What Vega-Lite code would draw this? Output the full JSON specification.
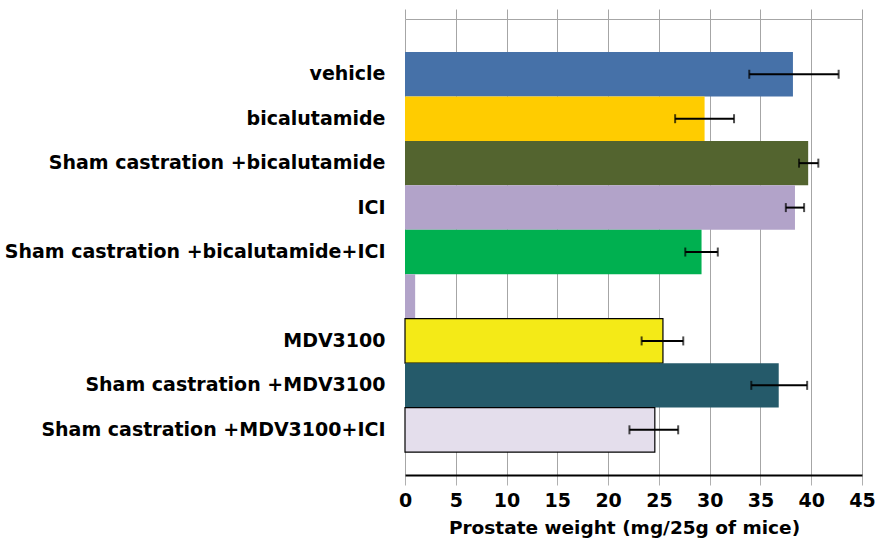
{
  "$schema": "https://vega.github.io/schema/vega-lite/v6.json",
  "width": 457,
  "height": 456,
  "autosize": {"type": "none"},
  "padding": {"left": 405, "top": 19, "right": 16, "bottom": 69},
  "background": "white",
  "config": {"view": {"stroke": null}, "font": "DejaVu Sans"},
  "data": {
    "values": [
      {"group": "vehicle", "weight": 38.2, "lo": 33.9, "hi": 42.7},
      {"group": "bicalutamide", "weight": 29.5, "lo": 26.6, "hi": 32.4},
      {"group": "Sham castration +bicalutamide", "weight": 39.7, "lo": 38.8, "hi": 40.7},
      {"group": "ICI", "weight": 38.4, "lo": 37.5, "hi": 39.3},
      {"group": "Sham castration +bicalutamide+ICI", "weight": 29.2, "lo": 27.6, "hi": 30.8},
      {"group": " ", "weight": 1.0, "lo": null, "hi": null},
      {"group": "MDV3100", "weight": 25.4, "lo": 23.3, "hi": 27.4},
      {"group": "Sham castration +MDV3100", "weight": 36.8, "lo": 34.1, "hi": 39.6},
      {"group": "Sham castration +MDV3100+ICI", "weight": 24.6, "lo": 22.1, "hi": 26.9}
    ]
  },
  "resolve": {"axis": {"x": "independent"}},
  "layer": [
    {
      "mark": {"type": "bar", "strokeWidth": 1.2},
      "encoding": {
        "y": {
          "field": "group",
          "type": "nominal",
          "sort": null,
          "scale": {
            "domain": ["vehicle", "bicalutamide", "Sham castration +bicalutamide", "ICI", "Sham castration +bicalutamide+ICI", " ", "MDV3100", "Sham castration +MDV3100", "Sham castration +MDV3100+ICI"],
            "paddingInner": 0,
            "paddingOuter": 0.63,
            "align": 0.59
          },
          "axis": {
            "title": null,
            "domain": false,
            "ticks": false,
            "grid": false,
            "labelFont": "DejaVu Sans",
            "labelFontSize": 19,
            "labelFontWeight": "bold",
            "labelColor": "black",
            "labelPadding": 20,
            "labelLimit": 0
          }
        },
        "x": {
          "field": "weight",
          "type": "quantitative",
          "scale": {"domain": [0, 45], "nice": false},
          "axis": {
            "orient": "bottom",
            "values": [0, 5, 10, 15, 20, 25, 30, 35, 40, 45],
            "title": "Prostate weight (mg/25g of mice)",
            "grid": true,
            "gridColor": "#A6A6A6",
            "gridWidth": 1,
            "domainColor": "black",
            "domainWidth": 2,
            "tickColor": "#B0B0B0",
            "tickSize": 10,
            "labelFont": "DejaVu Sans",
            "labelFontSize": 19,
            "labelFontWeight": "bold",
            "labelColor": "black",
            "labelPadding": 6,
            "labelFlush": false,
            "titleFont": "DejaVu Sans",
            "titleFontSize": 18.5,
            "titleFontWeight": "bold",
            "titleColor": "black",
            "titlePadding": 8,
            "titleX": 219
          }
        },
        "color": {
          "field": "group",
          "type": "nominal",
          "legend": null,
          "scale": {
            "domain": ["vehicle", "bicalutamide", "Sham castration +bicalutamide", "ICI", "Sham castration +bicalutamide+ICI", " ", "MDV3100", "Sham castration +MDV3100", "Sham castration +MDV3100+ICI"],
            "range": ["#4671A8", "#FFCC00", "#53642F", "#B2A3C9", "#00B050", "#B2A3C9", "#F4EA17", "#255A6A", "#E4DEEC"]
          }
        },
        "stroke": {
          "condition": {"test": "datum.group === 'MDV3100' || datum.group === 'Sham castration +MDV3100+ICI'", "value": "black"},
          "value": null
        }
      }
    },
    {
      "transform": [{"filter": "isValid(datum.lo)"}],
      "mark": {"type": "rule", "color": "black", "strokeWidth": 2},
      "encoding": {
        "y": {"field": "group", "type": "nominal", "sort": null},
        "x": {
          "field": "lo",
          "type": "quantitative",
          "axis": {
            "orient": "top",
            "values": [0, 5, 10, 15, 20, 25, 30, 35, 40, 45],
            "labels": false,
            "title": null,
            "grid": false,
            "domainColor": "#A6A6A6",
            "domainWidth": 1,
            "tickColor": "#A6A6A6",
            "tickSize": 10
          }
        },
        "x2": {"field": "hi"}
      }
    },
    {
      "transform": [{"filter": "isValid(datum.lo)"}],
      "mark": {"type": "tick", "color": "black", "thickness": 2, "size": 9},
      "encoding": {
        "y": {"field": "group", "type": "nominal", "sort": null},
        "x": {"field": "lo", "type": "quantitative", "axis": null}
      }
    },
    {
      "transform": [{"filter": "isValid(datum.hi)"}],
      "mark": {"type": "tick", "color": "black", "thickness": 2, "size": 9},
      "encoding": {
        "y": {"field": "group", "type": "nominal", "sort": null},
        "x": {"field": "hi", "type": "quantitative", "axis": null}
      }
    }
  ]
}
